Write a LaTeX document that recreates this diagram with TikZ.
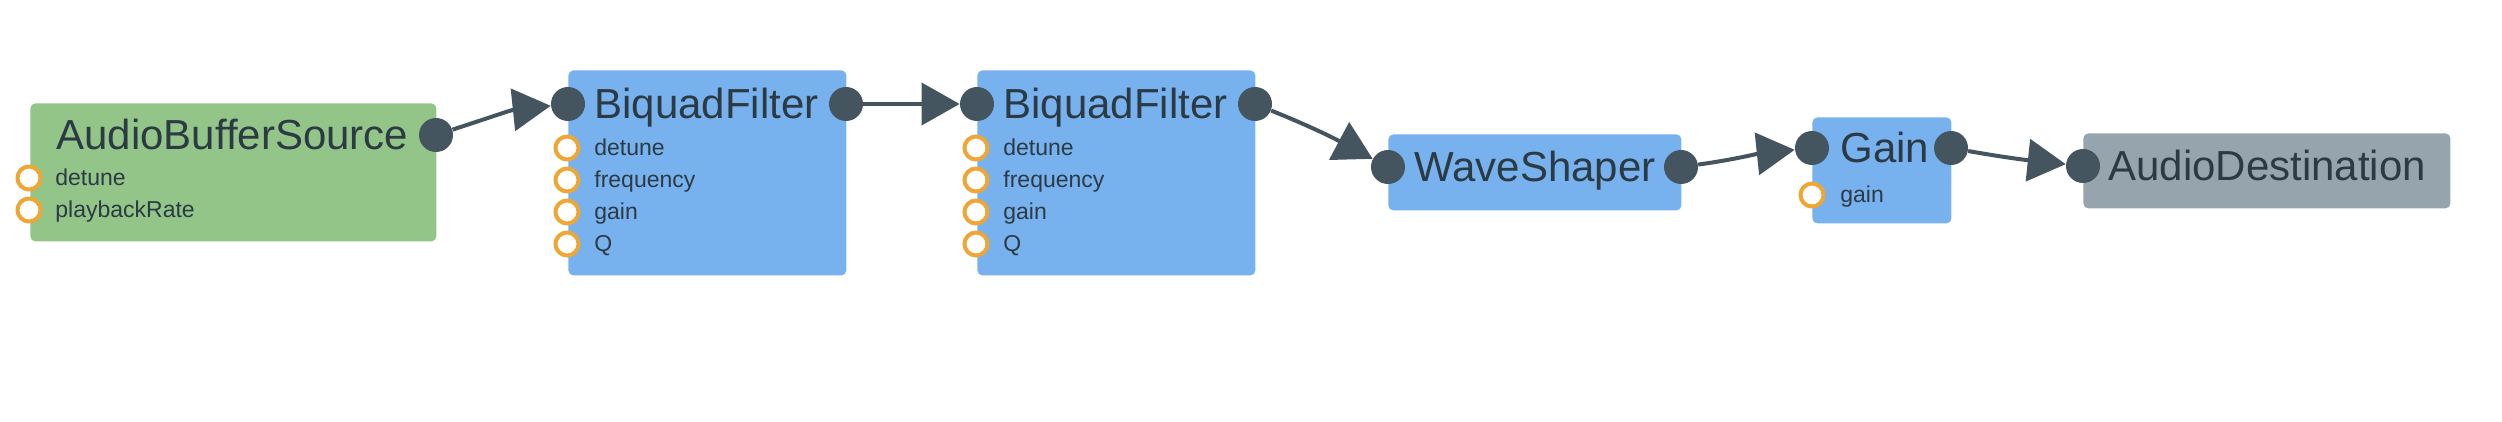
\documentclass[tikz,border=0pt]{standalone}
\usepackage{fontspec}
\setmainfont{Liberation Sans}
\usetikzlibrary{arrows.meta}
\definecolor{boxgreen}{HTML}{93C589}
\definecolor{boxblue}{HTML}{77B1EE}
\definecolor{boxgrey}{HTML}{95A4AD}
\definecolor{portcol}{HTML}{45555F}
\definecolor{ringcol}{HTML}{F0A635}
\definecolor{txtcol}{HTML}{2C3A44}
\begin{document}
\begin{tikzpicture}[x=0.5pt,y=-0.5pt,
  nodebox/.style={rectangle, rounded corners=2.5pt, draw=none, inner sep=0pt, anchor=north west},
  titletext/.style={font=\fontsize{21}{24}\selectfont, text=txtcol, inner sep=0pt, anchor=base west},
  paramtext/.style={font=\fontsize{11.5}{13}\selectfont, text=txtcol, inner sep=0pt, anchor=base west},
  port/.style={circle, fill=portcol, draw=none, minimum size=17pt, inner sep=0pt},
  ring/.style={circle, fill=white, draw=ringcol, line width=2pt, minimum size=11.5pt, inner sep=0pt},
  link/.style={draw=portcol, line width=2pt, -{Triangle[length=19pt,width=21pt]}}
]
\useasboundingbox (0,0) rectangle (2502,422);

% AudioBufferSource
\node[nodebox, fill=boxgreen, minimum width=203pt, minimum height=69pt] (abs) at (30,103) {};
\node[titletext] (absT) at (56,150) {AudioBufferSource};
\node[port] (absOut) at (436,135) {};
\node[ring] (absR1) at (29,178) {};
\node[paramtext] (absL1) at (55,186) {detune};
\node[ring] (absR2) at (29,210) {};
\node[paramtext] (absL2) at (55,218) {playbackRate};

% BiquadFilter 1
\node[nodebox, fill=boxblue, minimum width=139pt, minimum height=102.5pt] (bq1) at (568,70) {};
\node[titletext] (bq1T) at (594,119) {BiquadFilter};
\node[port] (bq1In) at (568,104) {};
\node[port] (bq1Out) at (846,104) {};
\node[ring] (bq1R1) at (567,148) {};
\node[paramtext] (bq1L1) at (594,156) {detune};
\node[ring] (bq1R2) at (567,180) {};
\node[paramtext] (bq1L2) at (594,188) {frequency};
\node[ring] (bq1R3) at (567,212) {};
\node[paramtext] (bq1L3) at (594,220) {gain};
\node[ring] (bq1R4) at (567,244) {};
\node[paramtext] (bq1L4) at (594,252) {Q};

% BiquadFilter 2
\node[nodebox, fill=boxblue, minimum width=139pt, minimum height=102.5pt] (bq2) at (977,70) {};
\node[titletext] (bq2T) at (1003,119) {BiquadFilter};
\node[port] (bq2In) at (977,104) {};
\node[port] (bq2Out) at (1255,104) {};
\node[ring] (bq2R1) at (976,148) {};
\node[paramtext] (bq2L1) at (1003,156) {detune};
\node[ring] (bq2R2) at (976,180) {};
\node[paramtext] (bq2L2) at (1003,188) {frequency};
\node[ring] (bq2R3) at (976,212) {};
\node[paramtext] (bq2L3) at (1003,220) {gain};
\node[ring] (bq2R4) at (976,244) {};
\node[paramtext] (bq2L4) at (1003,252) {Q};

% WaveShaper
\node[nodebox, fill=boxblue, minimum width=146.5pt, minimum height=38pt] (ws) at (1388,134) {};
\node[titletext] (wsT) at (1414,182) {WaveShaper};
\node[port] (wsIn) at (1388,167) {};
\node[port] (wsOut) at (1681,167) {};

% Gain
\node[nodebox, fill=boxblue, minimum width=69.5pt, minimum height=53pt] (gn) at (1812,117) {};
\node[titletext] (gnT) at (1840,163) {Gain};
\node[port] (gnIn) at (1812,148) {};
\node[port] (gnOut) at (1951,148) {};
\node[ring] (gnR1) at (1812,195) {};
\node[paramtext] (gnL1) at (1840,203) {gain};

% AudioDestination
\node[nodebox, fill=boxgrey, minimum width=183.5pt, minimum height=37.5pt] (ad) at (2083,133) {};
\node[titletext] (adT) at (2108,181) {AudioDestination};
\node[port] (adIn) at (2083,166) {};

% connectors
\draw[link] (absOut) to[out=18, in=186] (bq1In);
\draw[link] (bq1Out) -- (bq2In);
\draw[link] (bq2Out) to[out=-22, in=152] (wsIn);
\draw[link] (wsOut) to[out=8, in=186] (gnIn);
\draw[link] (gnOut) to[out=-10, in=174] (adIn);
\end{tikzpicture}
\end{document}
